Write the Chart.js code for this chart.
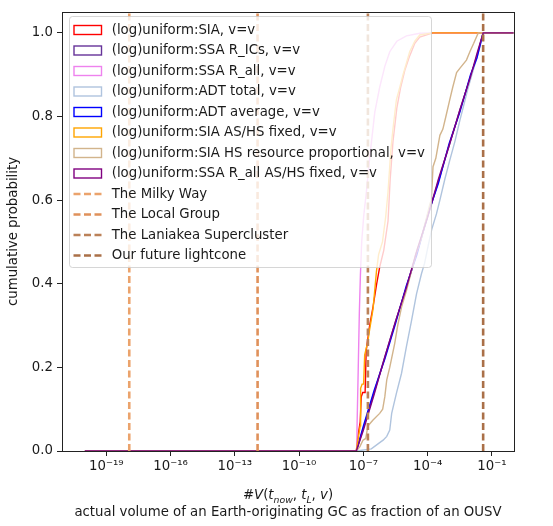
<!DOCTYPE html>
<html>
<head>
<meta charset="utf-8">
<script src="https://cdn.jsdelivr.net/npm/chart.js@4.4.0/dist/chart.umd.min.js"></script>
<style>
  body { margin: 0; background: #fff; }
</style>
</head>
<body>
<canvas id="cdfChart" width="553" height="526"></canvas>
<script>
// x values are log10 of the volume fraction, y values the cumulative probability
const siaX = [-20, -7.33, -7.27, -7.15, -7.10, -7.03, -6.92, -6.87, -6.71, -6.55, -6.38, -6.24, -6.05, -5.85, -5.75, -5.62, -5.44, -5.26, -5.07, -4.84, -4.60, -4.37, -3.76, 0];
const siaY = [0, 0, 0.03, 0.07, 0.13, 0.14, 0.14, 0.24, 0.30, 0.345, 0.40, 0.44, 0.48, 0.55, 0.65, 0.74, 0.82, 0.87, 0.91, 0.945, 0.975, 0.99, 1, 1];

const ssaIcsX = [-20, -7.33, -7.0, -6.5, -6.0, -5.5, -5.0, -4.5, -4.0, -3.5, -3.0, -2.5, -2.0, -1.7, -1.41, 0];
const ssaIcsY = [0, 0, 0.055, 0.14, 0.225, 0.31, 0.39, 0.475, 0.56, 0.645, 0.73, 0.815, 0.895, 0.945, 1, 1];

const ssaAllX = [-20, -7.33, -7.30, -7.24, -7.19, -7.14, -7.08, -6.99, -6.86, -6.71, -6.47, -6.24, -6.00, -5.77, -5.44, -4.99, -4.37, -3.76, 0];
const ssaAllY = [0, 0, 0.05, 0.20, 0.33, 0.42, 0.50, 0.56, 0.62, 0.70, 0.81, 0.87, 0.92, 0.955, 0.98, 0.993, 0.999, 1, 1];

const adtTotalX = [-20, -7.33, -6.63, -6.24, -6.08, -5.91, -5.77, -5.68, -5.46, -5.22, -4.99, -4.76, -4.52, -4.29, -4.14, -3.98, -3.81, -3.59, -3.43, -3.20, -2.97, -2.73, -2.50, -2.35, -2.13, -1.88, -1.71, -1.57, -1.41, 0];
const adtTotalY = [0, 0, 0.005, 0.02, 0.026, 0.035, 0.05, 0.09, 0.138, 0.186, 0.25, 0.31, 0.376, 0.424, 0.45, 0.49, 0.53, 0.567, 0.60, 0.65, 0.695, 0.74, 0.79, 0.82, 0.865, 0.91, 0.94, 0.965, 1, 1];

const adtAvgX = [-20, -7.33, -7.0, -6.5, -6.0, -5.5, -5.0, -4.5, -4.0, -3.5, -3.0, -2.5, -2.0, -1.7, -1.41, 0];
const adtAvgY = [0, 0, 0.06, 0.145, 0.22, 0.305, 0.395, 0.47, 0.565, 0.64, 0.735, 0.81, 0.90, 0.94, 1, 1];

const siaFixedX = [-20, -7.33, -7.27, -7.15, -7.13, -7.06, -6.99, -6.94, -6.80, -6.71, -6.55, -6.39, -6.29, -6.11, -5.96, -5.85, -5.72, -5.62, -5.46, -5.30, -5.15, -4.98, -4.84, -4.60, -4.37, -3.76, 0];
const siaFixedY = [0, 0, 0.02, 0.06, 0.15, 0.16, 0.16, 0.23, 0.26, 0.29, 0.34, 0.43, 0.47, 0.50, 0.56, 0.62, 0.72, 0.77, 0.84, 0.87, 0.90, 0.93, 0.955, 0.98, 0.995, 1, 1];

const siaPropX = [-20, -7.33, -7.17, -7.02, -6.89, -6.79, -6.55, -6.24, -6.10, -6.00, -5.91, -5.77, -5.54, -5.40, -5.22, -4.99, -4.76, -4.56, -4.29, -4.09, -3.90, -3.83, -3.75, -3.62, -3.43, -3.29, -3.15, -2.97, -2.83, -2.65, -2.50, -2.19, -2.03, -1.85, -1.64, 0];
const siaPropY = [0, 0, 0.01, 0.026, 0.03, 0.06, 0.074, 0.09, 0.10, 0.13, 0.17, 0.20, 0.257, 0.30, 0.344, 0.384, 0.43, 0.47, 0.51, 0.55, 0.59, 0.60, 0.68, 0.70, 0.755, 0.77, 0.80, 0.84, 0.87, 0.905, 0.915, 0.935, 0.955, 0.975, 1, 1];

const ssaAllFixedX = [-20, -7.33, -7.0, -6.5, -6.0, -5.5, -5.0, -4.5, -4.0, -3.5, -3.0, -2.5, -2.0, -1.7, -1.41, 0];
const ssaAllFixedY = [0, 0, 0.05, 0.135, 0.225, 0.31, 0.39, 0.48, 0.56, 0.65, 0.73, 0.815, 0.895, 0.95, 1, 1];

const seriesLabels = [
  "(log)uniform:SIA, v=v",
  "(log)uniform:SSA R_ICs, v=v",
  "(log)uniform:SSA R_all, v=v",
  "(log)uniform:ADT total, v=v",
  "(log)uniform:ADT average, v=v",
  "(log)uniform:SIA AS/HS fixed, v=v",
  "(log)uniform:SIA HS resource proportional, v=v",
  "(log)uniform:SSA R_all AS/HS fixed, v=v"
];
const seriesX = [siaX, ssaIcsX, ssaAllX, adtTotalX, adtAvgX, siaFixedX, siaPropX, ssaAllFixedX];
const seriesY = [siaY, ssaIcsY, ssaAllY, adtTotalY, adtAvgY, siaFixedY, siaPropY, ssaAllFixedY];
const seriesColors = ["#ff0000", "#663399", "#ee82ee", "#b0c4de", "#0000ff", "#ffa500", "#d2b48c", "#800080"];

// reference volumes, log10
const refNames = ["The Milky Way", "The Local Group", "The Laniakea Supercluster", "Our future lightcone"];
const refExps = [-17.93, -11.94, -6.79, -1.41];
const refColors = ["#eba36c", "#e0915b", "#bb8158", "#aa7048"];

const xTickExps = [-19, -16, -13, -10, -7, -4, -1];
const yTicks = [0, 0.2, 0.4, 0.6, 0.8, 1.0];

const FONT = "DejaVu Sans";
const TEXT = "#1a1a1a";
const sup = { "-": "\u207B", "0": "\u2070", "1": "\u00B9", "2": "\u00B2", "3": "\u00B3", "4": "\u2074", "5": "\u2075", "6": "\u2076", "7": "\u2077", "8": "\u2078", "9": "\u2079" };

const datasets = seriesLabels.map((label, i) => ({
  label: label,
  data: seriesX[i].map((e, j) => ({ x: Math.pow(10, e), y: seriesY[i][j] })),
  borderColor: seriesColors[i],
  borderWidth: 1.4,
  showLine: true,
  pointRadius: 0,
  order: 30 - i
}));
refNames.forEach((name, i) => {
  datasets.push({
    label: name,
    data: [{ x: Math.pow(10, refExps[i]), y: 0 }, { x: Math.pow(10, refExps[i]), y: 1.05 }],
    borderColor: refColors[i],
    borderWidth: 2.6,
    borderDash: [7, 3.5],
    showLine: true,
    pointRadius: 0,
    order: 10 - i
  });
});

const legendBox = {
  id: "legendBox",
  afterDatasetsDraw(chart) {
    const ctx = chart.ctx;
    ctx.save();
    ctx.beginPath();
    ctx.roundRect(69.5, 16.5, 362, 251, 3);
    ctx.fillStyle = "rgba(255,255,255,0.8)";
    ctx.fill();
    ctx.strokeStyle = "rgba(204,204,204,0.8)";
    ctx.lineWidth = 1;
    ctx.stroke();
    ctx.font = "13.3px '" + FONT + "'";
    ctx.textBaseline = "middle";
    ctx.textAlign = "left";
    chart.data.datasets.forEach((d, i) => {
      const y = 30 + i * 20.5;
      ctx.strokeStyle = d.borderColor;
      if (d.borderDash) {
        ctx.lineWidth = d.borderWidth;
        ctx.setLineDash(d.borderDash);
        ctx.beginPath();
        ctx.moveTo(73.5, y);
        ctx.lineTo(101.5, y);
        ctx.stroke();
        ctx.setLineDash([]);
      } else {
        ctx.lineWidth = 1.4;
        ctx.strokeRect(74, y - 4.5, 27.5, 9);
      }
      ctx.fillStyle = TEXT;
      ctx.fillText(d.label, 111.7, y + 0.5);
    });
    ctx.restore();
  },
  afterDraw(chart) {
    const ctx = chart.ctx;
    const a = chart.chartArea;
    ctx.save();
    ctx.strokeStyle = "#222";
    ctx.lineWidth = 1;
    ctx.strokeRect(Math.round(a.left) + 0.5, Math.round(a.top) + 0.5, Math.round(a.right - a.left), Math.round(a.bottom - a.top));

    // x axis title: math line then plain line
    const cx = (a.left + a.right) / 2;
    const parts = [
      { t: "#", it: false }, { t: "V", it: true }, { t: "(", it: false },
      { t: "t", it: true }, { t: "now", it: true, sub: true }, { t: ", ", it: false },
      { t: "t", it: true }, { t: "L", it: true, sub: true }, { t: ", ", it: false },
      { t: "v", it: true }, { t: ")", it: false }
    ];
    const fontOf = p => (p.it ? "italic " : "") + (p.sub ? "9.3px" : "13.3px") + " '" + FONT + "'";
    let total = 0;
    parts.forEach(p => { ctx.font = fontOf(p); p.w = ctx.measureText(p.t).width; total += p.w; });
    let x = cx - total / 2;
    ctx.fillStyle = TEXT;
    ctx.textBaseline = "alphabetic";
    ctx.textAlign = "left";
    parts.forEach(p => {
      ctx.font = fontOf(p);
      ctx.fillText(p.t, x, p.sub ? 502.5 : 499);
      x += p.w;
    });
    ctx.font = "13.3px '" + FONT + "'";
    ctx.textAlign = "center";
    ctx.textBaseline = "middle";
    ctx.fillText("actual volume of an Earth-originating GC as fraction of an OUSV", cx, 512.5);
    ctx.restore();
  }
};

new Chart(document.getElementById("cdfChart"), {
  type: "scatter",
  data: { datasets: datasets },
  options: {
    responsive: false,
    animation: false,
    events: [],
    layout: { padding: { top: 11, right: 39, bottom: 0, left: 0 } },
    plugins: {
      legend: { display: false },
      tooltip: { enabled: false }
    },
    scales: {
      x: {
        type: "logarithmic",
        min: Math.pow(10, -21.07),
        max: Math.pow(10, 0.03),
        afterBuildTicks: s => { s.ticks = xTickExps.map(e => ({ value: Math.pow(10, e) })); },
        afterFit: s => { s.height = 75; },
        border: { display: false },
        grid: { drawOnChartArea: false, drawTicks: true, tickLength: 5, tickColor: "#222", tickWidth: 1 },
        ticks: {
          autoSkip: false,
          maxRotation: 0,
          padding: 3,
          color: TEXT,
          font: { family: FONT, size: 13.3 },
          callback: v => {
            const e = String(Math.round(Math.log10(v)));
            return "10" + e.split("").map(c => sup[c]).join("");
          }
        }
      },
      y: {
        min: 0,
        max: 1.05,
        afterBuildTicks: s => { s.ticks = yTicks.map(v => ({ value: v })); },
        afterFit: s => { s.width = 62; },
        border: { display: false },
        grid: { drawOnChartArea: false, drawTicks: true, tickLength: 5, tickColor: "#222", tickWidth: 1 },
        ticks: {
          padding: 4,
          color: TEXT,
          font: { family: FONT, size: 13.3 },
          callback: v => v.toFixed(1)
        },
        title: {
          display: true,
          text: "cumulative probability",
          color: TEXT,
          font: { family: FONT, size: 13.3 },
          padding: { top: 6, bottom: 0 }
        }
      }
    }
  },
  plugins: [legendBox]
});
</script>
</body>
</html>
